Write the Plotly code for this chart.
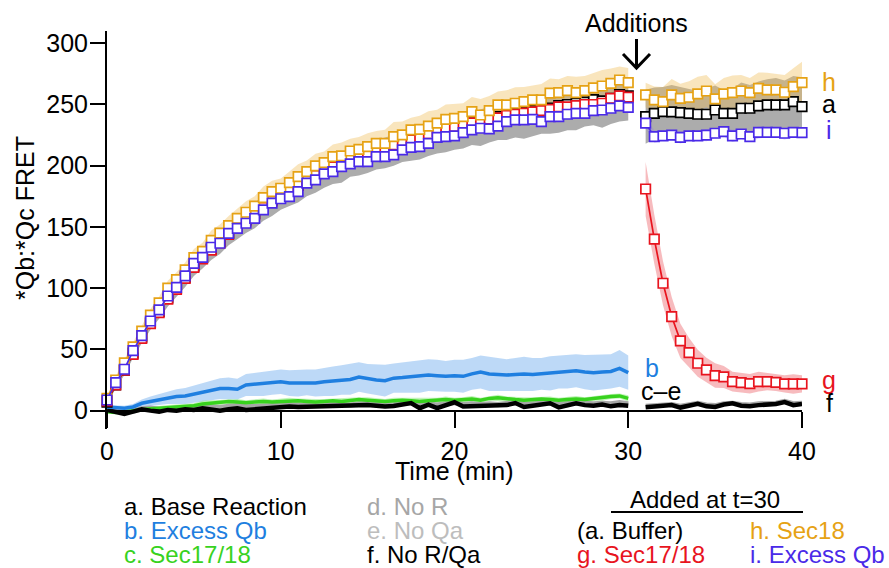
import plotly.graph_objects as go

# ---------------- data ----------------
T_PRE = [i * 0.5 for i in range(61)]          # 0 .. 30 min
T_POST = [31 + i * 0.5 for i in range(19)]    # 31 .. 40 min

# a. Base reaction (black) -- pre 30
a_pre = [7, 21, 33, 47, 60, 72, 81, 92, 100, 109,
         118, 125, 132, 138, 145, 151, 156, 161, 167, 172,
         176, 180, 184, 189, 193, 196, 200, 202, 206, 208,
         211, 213, 215, 218, 220, 222, 224, 226, 229, 231,
         232, 234, 236, 237, 239, 240, 242, 243, 244, 245,
         246, 247, 249, 250, 251, 252, 254, 253, 255, 258, 257]
a_pre_lo = [2, 3, 4, 4, 5, 6, 6, 7, 7, 8,
            8, 9, 9, 10, 10, 11, 11, 12, 12, 13,
            12, 13, 14, 14, 15, 14, 15, 16, 15, 16,
            17, 16, 17, 18, 17, 18, 19, 18, 19, 20,
            19, 20, 19, 21, 20, 19, 21, 20, 22, 21,
            20, 21, 22, 21, 22, 20, 21, 22, 21, 22, 20]
a_pre_hi = [2, 2, 3, 3, 3, 4, 4, 4, 5, 5,
            5, 5, 6, 6, 5, 6, 6, 7, 6, 7,
            6, 7, 7, 6, 7, 7, 8, 7, 7, 8,
            7, 8, 8, 7, 8, 8, 9, 8, 8, 9,
            8, 9, 8, 9, 9, 8, 9, 9, 10, 9,
            9, 10, 9, 10, 10, 9, 10, 11, 10, 11, 10]
a_post = [240, 242.8, 244.2, 244, 243.3, 242.8, 242, 242, 245.5, 242.8,
          242.8, 246.9, 246.9, 248.8, 249.6, 249.6, 249.6, 252.3, 248.2]
a_post_sd = [22, 21, 20, 22, 21, 20, 19, 21, 20, 19, 20, 21, 19, 20, 21, 22, 20, 21, 24]

# g. Sec17/18 added (red)
g_pre = [8, 21, 33, 46, 59, 71, 80, 91, 99, 108,
         117, 124, 131, 137, 144, 150, 155, 160, 166, 171,
         175, 179, 184, 188, 192, 196, 199, 203, 205, 208,
         210, 212, 214, 217, 219, 221, 223, 226, 228, 230,
         232, 233, 235, 236, 238, 239, 241, 242, 243, 244,
         245, 246, 248, 248, 249, 250, 250, 251, 255, 257, 256]
g_post = [181, 140, 104, 76.8, 57, 47.4, 38.7, 33.2, 28.6, 27.5,
          23.7, 22.9, 22, 23.7, 23.7, 23.1, 21.8, 21.8, 21.8]
g_post_sd = [22, 20, 18, 16, 14, 12, 11, 10, 10, 9, 8, 8, 8, 8, 7, 7, 7, 8, 7]

# h. Sec18 added (orange)
h_pre = [10, 25, 39, 52, 65, 78, 88, 100, 107, 115,
         125, 130, 139, 145, 151, 157, 162, 167, 174, 178.8,
         181.6, 186.2, 191.1, 195.2, 199.8, 202.5, 207.4, 208, 212, 213.4,
         215.6, 218.3, 218.3, 223.7, 225.1, 229.2, 229.7, 232.4, 234.7, 237.9,
         238.7, 240, 244.1, 241.4, 245, 249.6, 249.6, 251, 252.3, 253.7,
         253.7, 259.2, 259.7, 261.3, 259.7, 261.3, 263.5, 265.1, 267.3, 270, 267.8]
h_pre_sd = [2, 3, 3, 4, 4, 5, 5, 6, 6, 6,
            7, 7, 8, 7, 8, 8, 9, 8, 9, 9,
            8, 9, 10, 9, 10, 9, 10, 11, 10, 10,
            11, 10, 11, 12, 11, 10, 11, 12, 11, 12,
            12, 11, 12, 13, 12, 11, 12, 13, 12, 12,
            13, 12, 11, 12, 13, 12, 12, 13, 12, 11, 12]
h_post = [257.8, 253.7, 252.3, 257.8, 255, 255.9, 258.6, 261, 254.5, 258.6,
          259.7, 261, 259.7, 263.2, 261.9, 261.9, 260, 264.6, 267.8]
h_post_sd = [10, 11, 12, 13, 12, 13, 14, 13, 12, 13, 14, 13, 12, 13, 14, 13, 14, 15, 17]

# i. Excess Qb added (violet-blue)
i_pre = [8.7, 22.9, 33.8, 49, 61.3, 73.2, 82.2, 93.6, 100.7, 110,
         120.3, 125.2, 133.4, 136.7, 144.8, 148.9, 153, 157, 164, 169.5,
         173, 174.7, 178.8, 185.7, 188.4, 193.3, 195.2, 199.3, 201.5, 203.3,
         203.3, 207.4, 207.4, 208.8, 212.9, 215, 215.6, 218.3, 223.2, 223.7,
         224.3, 227, 229.2, 230.6, 230, 232.4, 236, 237.4, 237.4, 237.9,
         236, 240, 240, 242, 242.8, 242.8, 245, 245.5, 246.9, 248.8, 247.7]
i_post = [234.7, 223.7, 224.3, 225, 223.2, 224.3, 224.3, 225, 226.5, 227.8,
          224.3, 225.9, 223.7, 227.3, 227.3, 227.3, 226.5, 227.3, 227]
i_post_sd = [4, 5, 4, 4, 5, 4, 4, 5, 4, 4, 5, 4, 4, 5, 4, 4, 5, 4, 4]

# b. Excess Qb (blue)
b_pre = [3, 2.5, 2, 3, 6, 7.5, 9, 10.5, 11.5, 12,
         13.5, 15, 16.5, 18, 18, 17.5, 21, 21.5, 22, 23,
         23.5, 22.5, 22.5, 23, 22.5, 23.5, 24, 25, 25.5, 27.5,
         26, 25, 24.5, 26.5, 27, 27.5, 28, 29, 28.5, 28,
         28.5, 28, 30, 31.5, 30, 29.5, 29, 29.5, 30, 29.5,
         30, 30.5, 31.5, 32, 32.5, 31.5, 31, 31.5, 32, 34.5, 31]
b_pre_sd = [1.5, 2, 2, 2.5, 3, 4, 4.5, 5, 6, 6.5,
            7, 7.5, 8, 8.5, 9, 8.5, 9, 9.5, 10, 10,
            10, 10.5, 11, 10.5, 11, 11.5, 12, 12, 12.5, 12,
            12, 12.5, 13, 12, 12.5, 13, 13.5, 13, 13, 12.5,
            13, 13.5, 13, 13.5, 14, 13.5, 13, 13.5, 14, 13.5,
            13, 14, 13.5, 14, 13.5, 14, 14.5, 14, 14, 15, 14]

# c. Sec17/18 (green)
c_pre = [-1, -1.5, -1, 0, 1, 1.5, 2, 2.5, 3, 3.5,
         4, 5.5, 6, 6.5, 7.5, 7, 6.5, 7, 7.5, 7,
         7.5, 8, 8, 7.5, 7, 7.5, 8, 7.5, 8.5, 9,
         8.5, 8, 7.5, 8, 8.5, 8, 7.5, 8, 8.5, 9,
         8.5, 9, 9.5, 8.5, 10, 10.5, 9.5, 9, 8.5, 9,
         9.5, 9, 8.5, 9, 9.5, 9, 10, 10.5, 11.5, 12, 10]
c_pre_sd = [1, 1, 1, 1.5, 1.5, 1.5, 2, 2, 2, 2,
            2, 2.5, 2.5, 2, 2, 2.5, 2, 2, 2.5, 2,
            2, 2.5, 2, 2, 2.5, 2, 2, 2.5, 2, 2,
            2.5, 2, 2, 2.5, 2, 2, 2.5, 2, 2, 2.5,
            2, 2, 2.5, 2, 2, 2.5, 2, 2, 2.5, 2,
            2, 2.5, 2, 2, 2.5, 2, 2, 2.5, 2, 2, 2.5]

# d. No R (gray), e. No Qa (light gray)
d_pre = [1, 0, -1, 0, 2, 2.5, 1.5, 2, 2.5, 3,
         3, 4, 3.5, 3, 4, 4.5, 3.5, 4, 4.5, 5,
         5, 5.5, 5, 4.5, 5, 5.5, 6, 5.5, 5, 6,
         6.5, 6, 5, 5.5, 6.5, 7, 5, 6, 5, 6,
         7, 5.5, 6, 5.5, 6, 5.5, 6.5, 7, 5.5, 6,
         6.5, 7, 5.5, 6, 7, 6.5, 6, 6.5, 6, 7, 6]
d_post = [4, 4.5, 5.5, 5.5, 4, 5, 6.5, 5, 4.5, 6, 6.5, 5.5, 5, 6, 6, 6.5, 8, 6, 6.5]
e_pre = [0, -1, -2, -1, 1, 1, 0.5, 1.5, 2, 2,
         2.5, 3, 2.5, 2, 3, 3.5, 2.5, 3, 3.5, 4,
         4, 4.5, 4, 3.5, 4, 4.5, 5, 4.5, 4, 5,
         5, 5, 4, 4.5, 5.5, 6, 4, 5, 4, 5,
         6, 4.5, 5, 4.5, 5, 4.5, 5.5, 6, 4.5, 5,
         5.5, 6, 4.5, 5, 6, 5.5, 5, 5.5, 5, 6, 5]

# f. No R/Qa (black)
f_pre = [0.6, -0.8, -2.7, -0.8, 1.1, 0, -0.8, 0.6, 0, 1.1,
         0.6, 1.9, 1.1, 0, 1.1, 1.9, 0.6, 1.1, 1.1, 2.4,
         2.7, 3.3, 3, 3.2, 2.7, 3, 3.5, 4.1, 3.5, 4.6,
         4.6, 4, 3.3, 3.8, 5, 6.2, 2, 4.9, 2, 4,
         6.8, 3.3, 3.5, 3.3, 4, 3.5, 4.5, 6.2, 3, 4,
         5, 6, 2.7, 4, 6, 4.5, 4, 5, 3.5, 4.5, 4]
f_post = [2.7, 3.5, 4, 4.5, 2.5, 4, 5.5, 3.5, 3, 5, 6, 4, 3.5, 4.5, 5, 5.5, 7, 4.5, 5.5]

X_TICKS = [0, 10, 20, 30, 40]
Y_TICKS = [0, 50, 100, 150, 200, 250, 300]

# ---------------- styles ----------------
BLACK = "#000000"
BLUE_B = "#1f7fe0"
GREEN = "#38d21e"
GRAY_D = "#a6a6a6"
GRAY_E = "#bdbdbd"
RED = "#e8141e"
ORANGE = "#e6a214"
VIOLET = "#4a2ae8"
FONT = "Liberation Sans, Arial, Helvetica, sans-serif"
FS = 25
FS_LEG = 24

W, H = 889, 568
ML, MR, MT, MB = 107, 87, 31, 139
PW, PH = W - ML - MR, H - MT - MB
Y_RANGE = [-15, 310]
X_RANGE = [0, 40]


def px(x):
    return (x - ML) / PW


def py(y):
    return (H - MB - y) / PH


def band(x, y, lo_sd, hi_sd, color):
    up = [v + s for v, s in zip(y, hi_sd)]
    lo = [v - s for v, s in zip(y, lo_sd)]
    return go.Scatter(x=list(x) + list(x)[::-1], y=up + lo[::-1], mode="lines",
                      fill="toself", fillcolor=color, line=dict(width=0),
                      hoverinfo="skip", showlegend=False)


def thick(x, y, color, w):
    return go.Scatter(x=x, y=y, mode="lines", line=dict(color=color, width=w),
                      showlegend=False, cliponaxis=False)


def squares(x, y, color):
    return go.Scatter(x=x, y=y, mode="lines+markers",
                      line=dict(color=color, width=1.7),
                      marker=dict(symbol="square", size=9.5, color="white",
                                  line=dict(color=color, width=1.7)),
                      showlegend=False, cliponaxis=False)


fig = go.Figure()
# bands
fig.add_trace(band(T_PRE, a_pre, a_pre_lo, a_pre_hi, "rgb(172,172,172)"))
fig.add_trace(band(T_POST, a_post, a_post_sd, a_post_sd, "rgb(172,172,172)"))
fig.add_trace(band(T_PRE, h_pre, h_pre_sd, h_pre_sd, "rgba(240,190,90,0.40)"))
fig.add_trace(band(T_POST, h_post, h_post_sd, h_post_sd, "rgba(240,190,90,0.40)"))
fig.add_trace(band(T_POST, g_post, g_post_sd, g_post_sd, "rgba(240,120,125,0.50)"))
fig.add_trace(band(T_POST, i_post, i_post_sd, i_post_sd, "rgba(140,120,240,0.35)"))
fig.add_trace(band(T_PRE, b_pre, b_pre_sd, b_pre_sd, "rgba(90,160,235,0.40)"))
fig.add_trace(band(T_PRE, c_pre, c_pre_sd, c_pre_sd, "rgba(120,230,100,0.45)"))

# thick lines
fig.add_trace(thick(T_PRE, e_pre, GRAY_E, 4))
fig.add_trace(thick(T_PRE, d_pre, GRAY_D, 4))
fig.add_trace(thick(T_POST, d_post, GRAY_D, 4))
fig.add_trace(thick(T_PRE, c_pre, GREEN, 3.5))
fig.add_trace(thick(T_PRE, f_pre, BLACK, 4.5))
fig.add_trace(thick(T_POST, f_post, BLACK, 4.5))
fig.add_trace(thick(T_PRE, b_pre, BLUE_B, 3.5))

# square series
fig.add_trace(squares(T_PRE, a_pre, BLACK))
fig.add_trace(squares(T_PRE, g_pre, RED))
fig.add_trace(squares(T_PRE, h_pre, ORANGE))
fig.add_trace(squares(T_PRE, i_pre, VIOLET))
fig.add_trace(squares(T_POST, a_post, BLACK))
fig.add_trace(squares(T_POST, h_post, ORANGE))
fig.add_trace(squares(T_POST, i_post, VIOLET))
fig.add_trace(squares(T_POST, g_post, RED))

x_pos = (0 - Y_RANGE[0]) / (Y_RANGE[1] - Y_RANGE[0])

fig.update_layout(
    width=W, height=H, margin=dict(l=ML, r=MR, t=MT, b=MB),
    paper_bgcolor="white", plot_bgcolor="white",
    font=dict(family=FONT, size=FS, color="black"),
    showlegend=False,
    xaxis=dict(range=X_RANGE, tickvals=X_TICKS, ticks="outside", ticklen=16,
               tickwidth=2, tickcolor="black", showline=True, linewidth=2,
               linecolor="black", showgrid=False, zeroline=False,
               anchor="free", position=x_pos, tickfont=dict(size=FS),
               ticklabelstandoff=2),
    yaxis=dict(range=Y_RANGE, tickvals=Y_TICKS, ticks="outside", ticklen=15,
               tickwidth=2, tickcolor="black", showline=True, linewidth=2,
               linecolor="black", showgrid=False, zeroline=False,
               tickfont=dict(size=FS), ticklabelstandoff=-3),
)

ann = []
# axis titles
ann.append(dict(text="Time (min)", x=px(454), y=py(471), xref="paper", yref="paper",
                xanchor="center", yanchor="middle", showarrow=False, font=dict(size=FS)))
ann.append(dict(text="*Qb:*Qc FRET", x=px(25), y=py(218), xref="paper", yref="paper",
                xanchor="center", yanchor="middle", showarrow=False, textangle=-90,
                font=dict(size=FS)))
# Additions label
ann.append(dict(text="Additions", x=px(636), y=py(23), xref="paper", yref="paper",
                xanchor="center", yanchor="middle", showarrow=False, font=dict(size=FS)))
# series end labels
for t, xpix, ypix, col in [("h", 829, 82, ORANGE), ("a", 829, 104, BLACK),
                           ("i", 829, 130, VIOLET), ("g", 829, 380, RED),
                           ("f", 829, 403, BLACK), ("b", 652, 368, BLUE_B),
                           ("c\u2013e", 661, 391, BLACK)]:
    ann.append(dict(text=t, x=px(xpix), y=py(ypix), xref="paper", yref="paper",
                    xanchor="center", yanchor="middle",
                    showarrow=False, font=dict(size=FS, color=col)))
# legend block
legend_items = [
    ("a. Base Reaction", 122, 506, BLACK),
    ("b. Excess Qb", 122, 530, BLUE_B),
    ("c. Sec17/18", 122, 554, GREEN),
    ("d. No R", 365, 506, GRAY_D),
    ("e. No Qa", 365, 530, GRAY_E),
    ("f. No R/Qa", 365, 554, BLACK),
    ("(a. Buffer)", 575, 530, BLACK),
    ("g. Sec17/18", 575, 554, RED),
    ("h. Sec18", 748, 530, ORANGE),
    ("i. Excess Qb", 748, 554, VIOLET),
]
for t, xpix, ypix, col in legend_items:
    ann.append(dict(text=t, x=px(xpix), y=py(ypix), xref="paper", yref="paper",
                    xanchor="left", yanchor="middle", showarrow=False,
                    font=dict(size=FS_LEG, color=col)))
ann.append(dict(text="Added at t=30", x=px(705), y=py(499), xref="paper", yref="paper",
                xanchor="center", yanchor="middle", showarrow=False,
                font=dict(size=FS_LEG)))
fig.update_layout(annotations=ann)
fig.add_shape(type="line", xref="paper", yref="paper", x0=px(611), x1=px(803),
              y0=py(512), y1=py(512), line=dict(color="black", width=2))

# "Additions" arrow (stem + open V head)
fig.add_shape(type="line", xref="paper", yref="paper", x0=px(636.5), x1=px(636.5),
              y0=py(39), y1=py(68), line=dict(color="black", width=3))
fig.add_shape(type="path", xref="paper", yref="paper",
              path="M {:.5f},{:.5f} L {:.5f},{:.5f} L {:.5f},{:.5f}".format(
                  px(623), py(54), px(636.5), py(68), px(650), py(54)),
              line=dict(color="black", width=3))

fig.write_html("out.html")
